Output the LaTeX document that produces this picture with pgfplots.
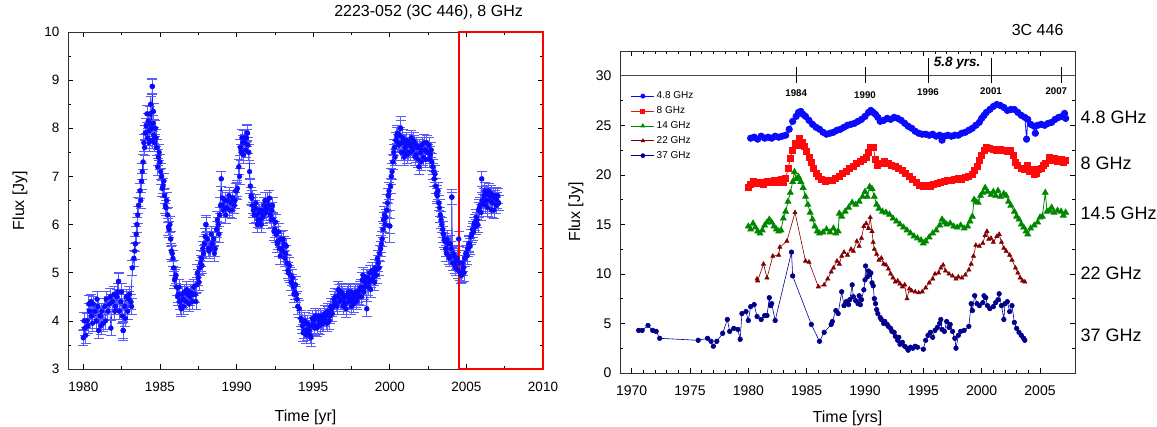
\documentclass[border=0pt]{standalone}
\usepackage{fontspec}
\setmainfont{Liberation Sans}
\usepackage{pgfplots}
\pgfplotsset{compat=1.18}
\definecolor{cblue}{RGB}{10,10,255}
\definecolor{cerr}{RGB}{90,90,255}
\definecolor{cred}{RGB}{255,10,10}
\definecolor{cgreen}{RGB}{0,135,0}
\definecolor{cdred}{RGB}{130,0,0}
\definecolor{cnavy}{RGB}{0,0,140}
\pgfplotsset{mystyle/.style={scale only axis, anchor=south west,
  axis line style={black!80, line width=0.8pt},
  tick style={black, line width=0.6pt},
  major tick length=5pt, minor tick length=3pt,
  tick align=inside, tick pos=both,
  /pgf/number format/assume math mode=true,
  /pgf/number format/set thousands separator={},
  clip=false},
  errstyle/.style={error bars/y dir=both,
  error bars/error bar style={color=cerr, line width=0.7pt},
  error bars/error mark options={rotate=90, color=cerr, mark size=5pt, line width=0.7pt}}}
\begin{document}
\begin{tikzpicture}
\useasboundingbox (0pt,0pt) rectangle (1157pt,427pt);
% ---------------- left panel ----------------
\begin{axis}[mystyle, width=475pt, height=337pt, at={(68pt,58pt)},
  xmin=1979, xmax=2010, ymin=3, ymax=10,
  xtick={1980,1985,...,2010}, minor xtick={1982.5,1987.5,...,2007.5},
  ytick={3,...,10}, minor ytick={3.5,4.5,...,9.5},
  tick label style={font=\fontsize{13.5}{16}\selectfont},
  xticklabel shift=10pt, yticklabel shift=5pt,
  xlabel={Time [yr]}, ylabel={Flux [Jy]},
  label style={font=\fontsize{16}{19}\selectfont},
  xlabel style={at={(axis description cs:0.5,-0.145)}, anchor=center},
  ylabel style={at={(axis description cs:-0.101,0.5)}, anchor=center},
  title={2223-052 (3C 446), 8 GHz},
  title style={font=\fontsize{16}{19}\selectfont, at={(axis description cs:0.958,1.039)}, anchor=east, inner sep=0pt},
]
\addplot[only marks, color=cblue, mark=*, mark size=2.4pt, mark options={fill=cblue, draw=cblue},
  errstyle, error bars/y fixed=0.17]
coordinates {
(1980.05,4.0) (1980.35,4.35) (1980.6,3.95) (1980.9,4.45) (1981.15,3.9) (1981.45,4.0) (1981.75,4.5) (1982.05,4.2) (1982.25,4.6) (1982.5,4.6)
(1982.75,4.05) (1982.95,4.45) (1983.15,4.3) (1983.35,5.45) (1983.55,6.2) (1983.75,6.5) (1983.85,7.1) (1983.95,7.7) (1984.15,8.3) (1984.28,7.7)
(1984.38,8.1) (1984.48,7.75) (1984.58,8.35) (1984.65,7.7) (1984.75,7.8) (1984.85,7.2) (1984.95,7.5) (1985.05,7.1) (1985.15,6.75) (1985.25,6.9)
(1985.35,6.4) (1985.45,6.5) (1985.55,5.95) (1985.65,6.0) (1985.75,5.45) (1985.85,5.3) (1985.95,4.85) (1986.05,4.95) (1986.15,4.5) (1986.25,4.7)
(1986.35,4.3) (1986.45,4.55) (1986.55,4.3) (1986.75,4.65) (1986.95,4.5) (1987.15,4.55) (1987.35,4.4) (1987.45,5.0) (1987.55,4.8) (1987.65,5.2)
(1987.75,5.15) (1987.85,5.4) (1987.95,5.75) (1988.15,5.5) (1988.35,5.8) (1988.55,5.4) (1988.75,6.1) (1988.85,5.8) (1988.95,6.4) (1989.1,6.55)
(1989.3,6.2) (1989.5,6.6) (1989.7,6.3) (1989.9,6.5) (1990.0,6.7) (1990.2,7.0) (1990.35,7.8) (1990.45,7.45) (1990.55,7.7) (1990.65,7.8)
(1990.75,7.65) (1990.85,7.1) (1990.95,6.6) (1991.05,6.4) (1991.15,6.2) (1991.25,6.45) (1991.35,6.0) (1991.45,6.3) (1991.55,6.1) (1991.65,6.3)
(1991.75,6.2) (1991.85,6.5) (1991.95,6.25) (1992.05,6.35) (1992.15,6.55) (1992.25,6.1) (1992.35,6.4) (1992.45,5.85) (1992.55,6.05) (1992.65,5.6)
(1992.75,5.85) (1992.85,5.35) (1992.95,5.5) (1993.05,5.7) (1993.15,5.3) (1993.25,5.55) (1993.35,5.05) (1993.45,5.15) (1993.55,4.8) (1993.65,4.9)
(1993.75,4.55) (1993.85,4.75) (1993.95,4.45) (1994.1,4.25) (1994.25,4.0) (1994.35,3.75) (1994.45,4.0) (1994.55,3.7) (1994.65,3.95) (1994.75,3.8)
(1994.85,3.65) (1994.95,4.05) (1995.05,3.9) (1995.15,4.1) (1995.25,3.85) (1995.35,4.1) (1995.45,3.9) (1995.55,4.05) (1995.65,3.95) (1995.75,4.15)
(1995.85,4.0) (1995.95,4.2) (1996.05,4.0) (1996.15,4.3) (1996.25,4.15) (1996.35,4.45) (1996.45,4.5) (1996.55,4.3) (1996.65,4.65) (1996.75,4.4)
(1996.85,4.6) (1996.95,4.3) (1997.05,4.5) (1997.15,4.25) (1997.25,4.55) (1997.35,4.4) (1997.45,4.6) (1997.55,4.5) (1997.65,4.35) (1997.75,4.6)
(1997.85,4.4) (1997.95,4.55) (1998.05,4.65) (1998.15,4.5) (1998.25,4.95) (1998.35,4.7) (1998.45,4.9) (1998.65,4.8) (1998.75,4.65) (1998.85,5.05)
(1998.95,4.9) (1999.05,5.1) (1999.15,4.95) (1999.25,5.2) (1999.35,5.4) (1999.45,5.6) (1999.55,5.9) (1999.65,6.2) (1999.75,6.15) (1999.85,6.45)
(1999.95,6.7) (2000.15,7.1) (2000.25,7.5) (2000.35,7.4) (2000.45,7.85) (2000.55,7.7) (2000.65,7.85) (2000.75,7.5) (2000.85,7.8) (2000.95,7.4)
(2001.05,7.7) (2001.15,7.45) (2001.25,7.7) (2001.35,7.5) (2001.45,7.6) (2001.55,7.75) (2001.65,7.4) (2001.75,7.65) (2001.85,7.35) (2001.95,7.6)
(2002.05,7.3) (2002.15,7.55) (2002.25,7.7) (2002.35,7.35) (2002.45,7.5) (2002.55,7.65) (2002.65,7.45) (2002.75,7.3) (2002.85,7.1) (2002.95,7.05)
(2003.05,6.65) (2003.15,6.7) (2003.25,6.35) (2003.35,6.1) (2003.45,5.9) (2003.55,5.7) (2003.65,5.5) (2003.75,5.7) (2003.85,5.35) (2003.95,5.6)
(2004.15,5.4) (2004.25,5.15) (2004.35,5.25) (2004.45,5.05) (2004.55,5.2) (2004.65,4.95) (2004.75,5.2) (2004.85,5.0) (2004.95,5.4) (2005.05,5.35)
(2005.15,5.6) (2005.25,5.55) (2005.35,5.8) (2005.45,5.85) (2005.55,6.05) (2005.65,6.15) (2005.75,6.0) (2005.85,6.35) (2005.95,6.25) (2006.1,6.45)
(2006.2,6.7) (2006.3,6.5) (2006.4,6.35) (2006.5,6.6) (2006.6,6.65) (2006.7,6.45) (2006.8,6.3) (2006.9,6.6) (2007.0,6.5)
};
\addplot[color=cblue, line width=0.6pt, mark=*, mark size=2.4pt, mark options={fill=cblue, draw=cblue},
  errstyle, error bars/y fixed=0.16]
coordinates {
(1980.0,3.65) (1980.1,3.85) (1980.15,3.7) (1980.25,4.0) (1980.3,3.9) (1980.4,4.2) (1980.5,4.4) (1980.55,4.1) (1980.65,4.35) (1980.75,4.2)
(1980.85,4.0) (1980.95,4.3) (1981.0,3.8) (1981.1,4.1) (1981.2,4.2) (1981.3,3.95) (1981.4,4.3) (1981.5,4.45) (1981.6,4.2) (1981.7,4.35)
(1981.8,3.85) (1981.9,4.4) (1982.0,4.55) (1982.1,4.3) (1982.2,4.5) (1982.3,4.82) (1982.35,4.2) (1982.45,4.4) (1982.55,4.1) (1982.6,3.8)
(1982.7,4.3) (1982.8,4.5) (1982.9,4.2) (1983.0,4.55) (1983.1,4.4) (1983.2,5.1) (1983.3,5.3) (1983.4,5.6) (1983.45,5.8) (1983.5,6.0)
(1983.6,6.4) (1983.7,6.7) (1983.8,6.9) (1983.9,7.3) (1984.0,7.6) (1984.05,7.9) (1984.1,8.05) (1984.2,7.8) (1984.25,8.15) (1984.3,7.95)
(1984.35,8.3) (1984.4,8.5) (1984.45,8.0) (1984.5,8.87) (1984.55,8.1) (1984.6,7.85) (1984.7,8.0) (1984.8,7.6) (1984.9,7.4) (1985.0,7.3)
(1985.1,7.0) (1985.2,6.8) (1985.3,6.6) (1985.4,6.35) (1985.5,6.2) (1985.6,5.9) (1985.7,5.7) (1985.8,5.4) (1985.9,5.1) (1986.0,4.9)
(1986.1,4.7) (1986.2,4.55) (1986.3,4.4) (1986.4,4.25) (1986.5,4.45) (1986.6,4.6) (1986.7,4.4) (1986.8,4.55) (1986.9,4.35) (1987.0,4.6)
(1987.1,4.4) (1987.2,4.7) (1987.3,4.55) (1987.4,4.75) (1987.5,4.9) (1987.6,5.1) (1987.7,5.3) (1987.8,5.5) (1987.9,5.6) (1988.0,6.0)
(1988.1,5.7) (1988.2,5.45) (1988.3,5.5) (1988.4,5.6) (1988.5,5.7) (1988.6,5.5) (1988.7,5.9) (1988.8,6.0) (1988.9,6.2) (1989.0,6.95)
(1989.05,6.4) (1989.15,6.3) (1989.25,6.5) (1989.35,6.35) (1989.45,6.5) (1989.55,6.3) (1989.65,6.45) (1989.75,6.55) (1989.85,6.4) (1989.95,6.7)
(1990.05,6.75) (1990.15,7.2) (1990.25,7.6) (1990.3,7.5) (1990.4,7.7) (1990.5,7.8) (1990.6,7.55) (1990.7,7.9) (1990.8,7.5) (1990.9,6.8)
(1991.0,6.55) (1991.1,6.3) (1991.2,6.35) (1991.3,6.2) (1991.4,6.1) (1991.5,6.25) (1991.6,6.0) (1991.7,6.15) (1991.8,6.4) (1991.9,6.3)
(1992.0,6.5) (1992.1,6.4) (1992.2,6.2) (1992.3,6.3) (1992.4,6.1) (1992.5,5.9) (1992.6,5.8) (1992.7,5.65) (1992.8,5.5) (1992.9,5.7)
(1993.0,5.45) (1993.1,5.6) (1993.2,5.4) (1993.3,5.2) (1993.4,5.0) (1993.5,4.95) (1993.6,4.8) (1993.7,4.7) (1993.8,4.6) (1993.9,4.55)
(1994.0,4.3) (1994.2,4.05) (1994.3,3.9) (1994.4,3.8) (1994.5,3.95) (1994.6,3.75) (1994.7,3.85) (1994.8,3.7) (1994.9,3.9) (1995.0,4.0)
(1995.1,3.85) (1995.2,4.05) (1995.3,3.9) (1995.4,4.0) (1995.5,4.1) (1995.6,3.95) (1995.7,4.05) (1995.8,4.1) (1995.9,3.95) (1996.0,4.15)
(1996.1,4.1) (1996.2,4.25) (1996.3,4.3) (1996.4,4.4) (1996.5,4.35) (1996.6,4.5) (1996.7,4.6) (1996.8,4.45) (1996.9,4.55) (1997.0,4.4)
(1997.1,4.35) (1997.2,4.5) (1997.3,4.6) (1997.4,4.45) (1997.5,4.3) (1997.6,4.4) (1997.7,4.55) (1997.8,4.45) (1997.9,4.6) (1998.0,4.5)
(1998.1,4.7) (1998.2,4.85) (1998.3,4.6) (1998.4,4.8) (1998.5,4.25) (1998.55,4.9) (1998.6,4.7) (1998.7,5.0) (1998.8,4.85) (1998.9,5.0)
(1999.0,4.8) (1999.1,5.05) (1999.2,5.3) (1999.3,5.1) (1999.4,5.5) (1999.5,5.7) (1999.6,6.1) (1999.7,6.0) (1999.8,6.3) (1999.9,6.6)
(2000.0,5.97) (2000.05,6.8) (2000.1,7.0) (2000.2,7.3) (2000.3,7.6) (2000.4,7.75) (2000.5,7.9) (2000.6,7.65) (2000.7,8.0) (2000.8,7.7)
(2000.9,7.5) (2001.0,7.6) (2001.1,7.75) (2001.2,7.5) (2001.3,7.65) (2001.4,7.8) (2001.5,7.55) (2001.6,7.7) (2001.7,7.45) (2001.8,7.6)
(2001.9,7.2) (2002.0,7.5) (2002.1,7.65) (2002.2,7.4) (2002.3,7.55) (2002.4,7.7) (2002.5,7.5) (2002.6,7.35) (2002.7,7.55) (2002.8,7.2)
(2002.9,6.95) (2003.0,6.8) (2003.1,6.6) (2003.2,6.45) (2003.3,6.2) (2003.4,6.0) (2003.5,5.8) (2003.6,5.65) (2003.7,5.4) (2003.8,5.6)
(2003.9,5.3) (2004.0,5.5) (2004.05,6.57) (2004.1,5.2) (2004.2,5.35) (2004.3,5.1) (2004.4,5.3) (2004.5,5.7) (2004.6,5.0) (2004.7,4.95)
(2004.8,5.1) (2004.9,5.3) (2005.0,5.4) (2005.1,5.5) (2005.2,5.6) (2005.3,5.75) (2005.4,5.9) (2005.5,6.0) (2005.6,5.95) (2005.7,6.1)
(2005.8,6.3) (2005.9,6.4) (2006.0,6.95) (2006.05,6.5) (2006.15,6.6) (2006.25,6.4) (2006.35,6.65) (2006.45,6.7) (2006.55,6.5) (2006.65,6.3)
(2006.75,6.6) (2006.85,6.55) (2006.95,6.4) (2007.05,6.6) (2007.1,6.45)
};
\addplot[only marks, color=cblue, mark=*, mark size=2.4pt, errstyle, error bars/y explicit]
coordinates {
(1982.3,4.82) +- (0,0.18) (1982.6,3.8) +- (0,0.2) (1988.0,6.0) +- (0,0.2) (2000.0,5.97) +- (0,0.33)
(2004.05,6.57) += (0,0.1) -= (0,1.05) (1990.7,7.9) +- (0,0.18) (1984.5,8.87) +- (0,0.15) (2000.7,8.0) +- (0,0.25)
};
\draw[red, line width=2.4pt] (axis cs:2004.5,3) rectangle (axis cs:2010,10);
\end{axis}
% ---------------- right panel ----------------
\begin{axis}[mystyle, width=455pt, height=322pt, at={(620pt,54pt)},
  xmin=1969, xmax=2008, ymin=0, ymax=32.5,
  xtick={1970,1975,...,2005}, minor x tick num=4,
  ytick={0,5,...,30}, minor y tick num=1,
  tick label style={font=\fontsize{14}{16}\selectfont},
  xticklabel shift=9pt, yticklabel shift=5pt,
  xlabel={Time [yrs]}, ylabel={Flux [Jy]},
  label style={font=\fontsize{16}{19}\selectfont},
  xlabel style={at={(axis description cs:0.5,-0.14)}, anchor=center},
  ylabel style={at={(axis description cs:-0.097,0.5)}, anchor=center},
  title={3C 446},
  title style={font=\fontsize{16}{19}\selectfont, at={(axis description cs:0.975,1.047)}, anchor=east, inner sep=0pt},
  legend style={draw=none, fill=none, at={(axis description cs:0.017,0.886)}, anchor=north west,
    font=\fontsize{10}{12}\selectfont, row sep=2.4pt, legend cell align=left},
  legend image code/.code={\draw[mark repeat=2,mark phase=2, mark size=2pt] plot coordinates {(0pt,0pt) (11.5pt,0pt) (23pt,0pt)};},
]
\addplot[color=cblue, line width=0.8pt, mark=*, mark size=3.2pt, mark options={fill=cblue}] coordinates {
(1980.2,23.7) (1980.5,23.8) (1980.8,23.6) (1981.1,23.9) (1981.4,23.7) (1981.7,23.8) (1982.0,23.7) (1982.3,23.9) (1982.6,23.8) (1982.9,23.9)
(1983.2,24.0) (1983.5,24.6) (1983.8,25.4) (1984.1,25.9) (1984.3,26.3) (1984.5,26.4) (1984.7,26.1) (1984.9,25.9) (1985.2,25.5) (1985.5,25.1)
(1985.8,24.8) (1986.1,24.6) (1986.4,24.3) (1986.7,24.1) (1987.0,24.2) (1987.3,24.3) (1987.6,24.5) (1987.9,24.6) (1988.2,24.8) (1988.5,25.0)
(1988.8,25.1) (1989.1,25.2) (1989.4,25.4) (1989.7,25.6) (1990.0,25.9) (1990.3,26.3) (1990.5,26.5) (1990.7,26.3) (1990.9,26.1) (1991.1,25.8)
(1991.3,25.4) (1991.6,25.5) (1991.9,25.7) (1992.2,25.6) (1992.5,25.8) (1992.8,25.7) (1993.1,25.5) (1993.4,25.2) (1993.7,24.9) (1994.0,24.7)
(1994.3,24.4) (1994.6,24.2) (1994.9,24.1) (1995.2,24.1) (1995.5,24.0) (1995.8,24.1) (1996.1,23.9) (1996.4,24.0) (1996.6,23.5) (1996.8,23.9)
(1997.1,24.0) (1997.4,23.9) (1997.7,24.0) (1998.0,24.0) (1998.3,24.2) (1998.6,24.3) (1998.9,24.5) (1999.2,24.7) (1999.5,25.0) (1999.8,25.3)
(2000.0,25.7) (2000.2,26.0) (2000.4,26.3) (2000.7,26.6) (2001.0,26.9) (2001.3,27.1) (2001.6,27.0) (2001.9,26.8) (2002.2,26.5) (2002.5,26.6)
(2002.8,26.6) (2003.1,26.3) (2003.4,26.0) (2003.7,25.8) (2003.85,23.6) (2003.95,25.6) (2004.2,25.1) (2004.5,24.9) (2004.6,24.2) (2004.8,25.0)
(2005.1,25.1) (2005.4,25.0) (2005.7,25.2) (2006.0,25.3) (2006.3,25.6) (2006.6,25.8) (2006.9,25.9) (2007.1,26.2) (2007.2,25.7)
};
\addlegendentry{4.8 GHz}
\addplot[color=cred, line width=0.8pt, mark=square*, mark size=3pt, mark options={fill=cred}] coordinates {
(1980.0,18.7) (1980.2,19.0) (1980.4,19.3) (1980.7,19.1) (1981.0,19.2) (1981.3,19.0) (1981.6,19.3) (1981.9,19.2) (1982.2,19.4) (1982.5,19.2)
(1982.8,19.5) (1983.0,19.2) (1983.2,19.6) (1983.4,20.6) (1983.6,21.7) (1983.8,22.5) (1984.0,23.2) (1984.2,23.0) (1984.4,23.7) (1984.6,23.3)
(1984.8,22.9) (1985.0,22.4) (1985.2,21.8) (1985.4,21.3) (1985.6,20.7) (1985.8,20.1) (1986.0,19.8) (1986.3,19.5) (1986.6,19.3) (1986.9,19.4)
(1987.2,19.4) (1987.5,19.6) (1987.8,19.8) (1988.1,20.1) (1988.4,20.3) (1988.7,20.6) (1989.0,20.9) (1989.3,21.2) (1989.6,21.4) (1989.9,21.6)
(1990.1,21.8) (1990.3,22.3) (1990.5,22.8) (1990.7,22.8) (1990.9,21.6) (1991.1,21.0) (1991.4,21.2) (1991.7,21.4) (1992.0,21.2) (1992.3,21.0)
(1992.6,20.9) (1992.9,20.6) (1993.2,20.4) (1993.5,20.1) (1993.8,19.8) (1994.1,19.5) (1994.4,19.2) (1994.7,18.9) (1995.0,18.8) (1995.3,18.9)
(1995.6,18.8) (1995.9,19.0) (1996.2,19.1) (1996.5,19.2) (1996.8,19.3) (1997.1,19.4) (1997.4,19.4) (1997.7,19.5) (1998.0,19.6) (1998.3,19.5)
(1998.6,19.7) (1998.9,19.8) (1999.2,20.0) (1999.4,20.4) (1999.6,20.9) (1999.8,21.5) (2000.0,22.0) (2000.2,22.5) (2000.4,22.8) (2000.7,22.7)
(2001.0,22.6) (2001.3,22.5) (2001.6,22.6) (2001.9,22.5) (2002.2,22.4) (2002.5,22.5) (2002.7,22.0) (2002.9,21.3) (2003.1,21.0) (2003.4,20.7)
(2003.7,20.5) (2003.9,21.0) (2004.1,20.3) (2004.3,20.5) (2004.5,20.0) (2004.7,20.1) (2004.9,20.5) (2005.1,20.7) (2005.3,21.0) (2005.5,21.2)
(2005.8,21.8) (2006.0,21.5) (2006.2,21.7) (2006.5,21.4) (2006.8,21.6) (2007.0,21.3) (2007.2,21.5)
};
\addlegendentry{8 GHz}
\addplot[color=cgreen, line width=0.8pt, mark=triangle*, mark size=3.3pt, mark options={fill=cgreen}] coordinates {
(1980.0,14.8) (1980.2,14.5) (1980.4,15.1) (1980.6,14.7) (1980.8,14.3) (1981.0,14.1) (1981.2,14.4) (1981.4,14.9) (1981.6,15.2) (1981.8,15.5)
(1982.0,15.2) (1982.2,14.8) (1982.4,14.5) (1982.6,14.3) (1982.8,14.4) (1983.0,15.6) (1983.2,16.3) (1983.4,17.3) (1983.6,18.2) (1983.8,19.3)
(1983.95,20.3) (1984.1,19.6) (1984.3,19.8) (1984.5,19.3) (1984.7,18.7) (1984.9,17.8) (1985.1,17.0) (1985.3,16.2) (1985.5,15.5) (1985.7,14.8)
(1985.9,14.3) (1986.1,14.1) (1986.4,14.2) (1986.7,14.5) (1987.0,14.2) (1987.3,14.6) (1987.5,14.1) (1987.7,14.3) (1987.8,16.1) (1988.0,15.8)
(1988.3,16.3) (1988.6,16.7) (1988.9,17.2) (1989.2,17.0) (1989.5,17.3) (1989.8,17.8) (1990.0,18.3) (1990.2,17.8) (1990.4,18.8) (1990.6,18.6)
(1990.8,17.8) (1991.0,17.0) (1991.2,16.6) (1991.5,16.3) (1991.8,16.2) (1992.1,16.0) (1992.4,15.6) (1992.7,15.3) (1993.0,15.0) (1993.3,14.7)
(1993.6,14.4) (1993.9,14.1) (1994.2,13.8) (1994.5,13.6) (1994.8,13.4) (1995.0,13.1) (1995.2,13.3) (1995.5,13.7) (1995.8,14.1) (1996.1,14.4)
(1996.4,14.9) (1996.6,15.5) (1996.8,15.2) (1997.0,15.0) (1997.3,15.1) (1997.6,14.8) (1997.9,14.7) (1998.2,14.9) (1998.5,14.6) (1998.8,14.8)
(1999.0,15.3) (1999.2,15.8) (1999.35,17.5) (1999.5,17.3) (1999.7,17.2) (1999.9,17.9) (2000.1,18.2) (2000.3,18.7) (2000.5,18.3) (2000.8,18.0)
(2001.0,18.3) (2001.2,17.9) (2001.4,18.4) (2001.6,17.8) (2001.9,18.1) (2002.1,17.9) (2002.3,17.3) (2002.5,16.9) (2002.8,16.3) (2003.0,15.8)
(2003.2,15.5) (2003.4,15.0) (2003.6,14.7) (2003.8,14.3) (2003.95,14.0) (2004.2,14.6) (2004.5,14.9) (2004.8,15.2) (2005.0,15.7) (2005.2,15.8)
(2005.45,18.2) (2005.6,16.3) (2005.8,16.4) (2006.0,16.7) (2006.2,16.2) (2006.5,16.4) (2006.8,16.3) (2007.0,15.9) (2007.2,16.2)
};
\addlegendentry{14 GHz}
\addplot[color=cdred, line width=0.6pt, mark=triangle*, mark size=2.4pt, mark options={fill=cdred}] coordinates {
(1980.75,9.5) (1980.8,9.3) (1981.3,11.0) (1981.6,9.6) (1982.1,11.8) (1982.6,11.9) (1982.7,12.7) (1983.3,13.3) (1984.0,16.2) (1984.9,11.3)
(1985.2,11.2) (1986.0,8.7) (1986.5,8.9) (1986.8,9.5) (1987.1,10.2) (1987.3,10.6) (1987.6,11.3) (1987.8,11.0) (1988.0,11.8) (1988.2,12.2)
(1988.5,11.9) (1988.8,12.5) (1989.0,12.3) (1989.3,13.3) (1989.5,12.8) (1989.7,13.6) (1989.9,14.8) (1990.1,15.1) (1990.3,14.6) (1990.45,15.7)
(1990.6,14.3) (1990.7,13.2) (1990.8,12.5) (1991.0,12.0) (1991.2,11.4) (1991.4,11.6) (1991.6,11.0) (1991.8,10.9) (1992.0,10.5) (1992.2,10.0)
(1992.4,9.6) (1992.6,9.2) (1992.8,9.3) (1993.0,9.0) (1993.2,8.7) (1993.4,8.9) (1993.6,7.5) (1993.8,8.5) (1994.0,8.3) (1994.3,8.2)
(1994.6,8.1) (1994.9,8.2) (1995.2,8.6) (1995.5,9.1) (1995.8,9.5) (1996.0,10.0) (1996.3,10.1) (1996.5,10.6) (1996.7,10.9) (1996.9,10.3)
(1997.2,10.0) (1997.5,9.8) (1997.8,9.5) (1998.0,9.7) (1998.3,9.6) (1998.6,9.9) (1998.9,10.4) (1999.1,11.0) (1999.3,11.8) (1999.5,12.9)
(1999.8,12.8) (2000.1,13.1) (2000.3,13.9) (2000.45,14.3) (2000.6,13.5) (2000.8,13.6) (2001.0,13.2) (2001.3,13.8) (2001.5,14.0) (2001.7,13.2)
(2001.9,12.6) (2002.1,12.3) (2002.4,11.9) (2002.6,11.4) (2002.9,10.6) (2003.1,10.1) (2003.3,9.6) (2003.5,9.3) (2003.7,9.2)
};
\addlegendentry{22 GHz}
\addplot[color=cnavy, line width=0.6pt, mark=*, mark size=2.3pt, mark options={fill=cnavy}] coordinates {
(1970.6,4.3) (1970.9,4.3) (1971.4,4.8) (1971.8,4.3) (1972.1,4.2) (1972.4,3.5) (1975.7,3.3) (1976.5,3.5) (1976.8,3.2) (1977.0,2.7)
(1977.3,3.2) (1977.8,4.0) (1978.2,5.4) (1978.4,4.2) (1978.75,4.5) (1979.1,4.4) (1979.3,3.4) (1979.45,6.0) (1979.8,6.2) (1980.0,5.3)
(1980.2,6.7) (1980.5,6.9) (1980.75,5.7) (1981.1,5.4) (1981.4,5.8) (1981.6,5.8) (1981.8,7.6) (1981.9,6.8) (1982.0,7.0) (1982.3,5.3)
(1983.7,12.2) (1983.8,9.8) (1985.4,4.9) (1986.1,3.2) (1986.5,4.1) (1987.1,4.9) (1987.2,5.2) (1987.5,6.3) (1987.7,6.0) (1988.0,8.2)
(1988.2,6.8) (1988.4,7.2) (1988.6,6.9) (1988.7,7.4) (1988.9,8.9) (1989.0,7.7) (1989.2,7.3) (1989.4,7.0) (1989.5,7.8) (1989.6,6.9)
(1989.7,7.4) (1989.9,8.4) (1990.0,9.4) (1990.05,10.8) (1990.2,9.7) (1990.3,10.3) (1990.4,9.9) (1990.5,10.1) (1990.6,9.1) (1990.7,8.8)
(1990.8,7.5) (1990.9,7.0) (1991.0,6.4) (1991.1,6.0) (1991.3,5.6) (1991.4,5.4) (1991.6,5.0) (1991.7,5.2) (1991.9,4.9) (1992.0,4.7)
(1992.2,4.5) (1992.3,4.2) (1992.5,4.1) (1992.6,3.7) (1992.8,3.3) (1992.9,3.6) (1993.0,2.9) (1993.2,3.1) (1993.4,2.7) (1993.6,2.5)
(1993.7,2.3) (1993.9,2.6) (1994.1,2.5) (1994.3,2.7) (1994.5,2.6) (1995.0,2.4) (1995.2,3.3) (1995.4,3.8) (1995.6,4.1) (1995.8,3.6)
(1996.0,4.3) (1996.2,4.6) (1996.4,5.0) (1996.5,5.4) (1996.6,4.4) (1996.8,4.2) (1997.0,5.2) (1997.2,4.6) (1997.3,4.9) (1997.5,4.2)
(1997.7,3.5) (1997.8,2.5) (1998.0,3.8) (1998.2,4.2) (1998.5,4.3) (1998.9,4.7) (1999.1,7.0) (1999.2,6.3) (1999.4,7.8) (1999.6,7.0)
(1999.8,6.8) (2000.1,7.1) (2000.2,7.8) (2000.35,7.6) (2000.5,6.8) (2000.7,6.5) (2001.0,6.7) (2001.2,7.1) (2001.4,7.4) (2001.5,8.0)
(2001.7,6.8) (2001.9,5.4) (2002.0,7.0) (2002.2,7.2) (2002.4,6.2) (2002.6,6.8) (2002.8,5.1) (2003.0,4.5) (2003.2,4.1) (2003.4,3.8)
(2003.6,3.5) (2003.7,3.3)
};
\addlegendentry{37 GHz}
% period annotation
\addplot[forget plot, color=black!70, line width=1.2pt] coordinates {(1969,30) (2008,30)};
\addplot[forget plot, black, line width=0.7pt] coordinates {(1984.1,29.3) (1984.1,30.9)};
\addplot[forget plot, black, line width=0.7pt] coordinates {(1990.0,29.3) (1990.0,30.9)};
\addplot[forget plot, black, line width=0.7pt] coordinates {(1995.4,29.3) (1995.4,31.8)};
\addplot[forget plot, black, line width=0.7pt] coordinates {(2000.8,29.3) (2000.8,31.8)};
\addplot[forget plot, black, line width=0.7pt] coordinates {(2006.85,29.3) (2006.85,30.9)};
\node[font=\fontsize{9.7}{11}\bfseries] at (axis cs:1984.1,28.2) {1984};
\node[font=\fontsize{9.7}{11}\bfseries] at (axis cs:1990.0,28.05) {1990};
\node[font=\fontsize{9.7}{11}\bfseries] at (axis cs:1995.4,28.3) {1996};
\node[font=\fontsize{9.7}{11}\bfseries] at (axis cs:2000.8,28.4) {2001};
\node[font=\fontsize{9.7}{11}\bfseries] at (axis cs:2006.4,28.4) {2007};
\node[font=\fontsize{13.5}{15}\bfseries\itshape] at (axis cs:1997.9,31.3) {5.8 yrs.};
% band labels
\node[anchor=west, inner sep=0pt, font=\fontsize{18}{21}\selectfont] at ([xshift=5.5pt]axis cs:2008,25.8) {4.8 GHz};
\node[anchor=west, inner sep=0pt, font=\fontsize{18}{21}\selectfont] at ([xshift=5.5pt]axis cs:2008,21.2) {8 GHz};
\node[anchor=west, inner sep=0pt, font=\fontsize{18}{21}\selectfont] at ([xshift=5.5pt]axis cs:2008,16.1) {14.5 GHz};
\node[anchor=west, inner sep=0pt, font=\fontsize{18}{21}\selectfont] at ([xshift=5.5pt]axis cs:2008,10.1) {22 GHz};
\node[anchor=west, inner sep=0pt, font=\fontsize{18}{21}\selectfont] at ([xshift=5.5pt]axis cs:2008,3.8) {37 GHz};
\end{axis}
\end{tikzpicture}
\end{document}
